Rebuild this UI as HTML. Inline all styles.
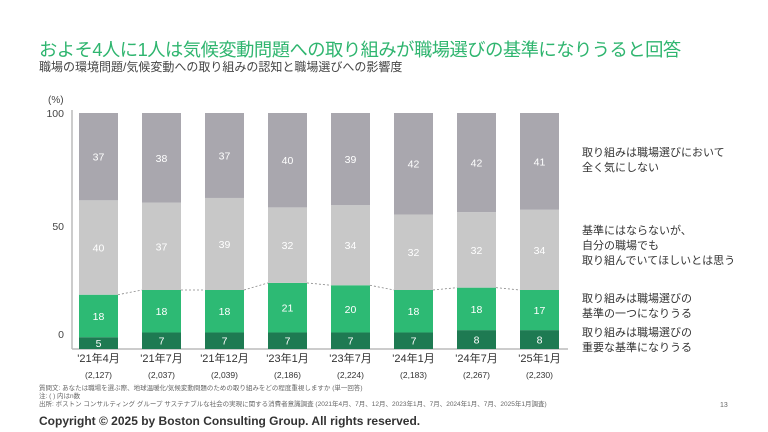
<!DOCTYPE html>
<html><head><meta charset="utf-8"><style>
body{margin:0;width:768px;height:432px;background:#fff;font-family:"Liberation Sans","Noto Sans CJK JP",sans-serif;overflow:hidden;position:relative}
.t{position:absolute;white-space:nowrap}
</style></head><body>
<div class="t" style="left:39px;top:36px;font-size:18.3px;color:#2fb56f;letter-spacing:-0.5px">およそ4人に1人は気候変動問題への取り組みが職場選びの基準になりうると回答</div>
<div class="t" style="left:39px;top:58px;font-size:12px;color:#444">職場の環境問題/気候変動への取り組みの認知と職場選びへの影響度</div>
<svg id="chart" width="768" height="432" style="position:absolute;left:0;top:0"></svg>
<div class="t" style="left:582px;top:146px;font-size:11px;line-height:15px;color:#333">取り組みは職場選びにおいて<br>全く気にしない</div>
<div class="t" style="left:582px;top:224px;font-size:11px;line-height:15px;color:#333">基準にはならないが、<br>自分の職場でも<br>取り組んでいてほしいとは思う</div>
<div class="t" style="left:582px;top:292px;font-size:11px;line-height:15px;color:#333">取り組みは職場選びの<br>基準の一つになりうる</div>
<div class="t" style="left:582px;top:326px;font-size:11px;line-height:15px;color:#333">取り組みは職場選びの<br>重要な基準になりうる</div>
<div class="t" style="left:39px;top:385px;font-size:6.5px;line-height:8px;color:#666">質問文: あなたは職場を選ぶ際、地球温暖化/気候変動問題のための取り組みをどの程度重視しますか (単一回答)<br>注: ( ) 内はn数<br>出所: ボストン コンサルティング グループ サステナブルな社会の実現に関する消費者意識調査 (2021年4月、7月、12月、2023年1月、7月、2024年1月、7月、2025年1月調査)</div>
<div class="t" style="left:720px;top:402px;font-size:7px;color:#666">13</div>
<div class="t" style="left:39px;top:414px;font-size:12px;font-weight:bold;color:#333">Copyright © 2025 by Boston Consulting Group. All rights reserved.</div>
<script>
const categories=["'21年4月","'21年7月","'21年12月","'23年1月","'23年7月","'24年1月","'24年7月","'25年1月"];
const sampleSizes=["(2,127)","(2,037)","(2,039)","(2,186)","(2,224)","(2,183)","(2,267)","(2,230)"];
const important=[5,7,7,7,7,7,8,8];
const oneCriterion=[18,18,18,21,20,18,18,17];
const hope=[40,37,39,32,34,32,32,34];
const notCare=[37,38,37,40,39,42,42,41];
const yTicks=[0,50,100];
const svg=document.getElementById('chart');
const NS='http://www.w3.org/2000/svg';
const y0=349,y100=113,x0=79,step=63,bw=39;
const y=v=>y0-(y0-y100)*v/100;
const x=i=>x0+i*step;
function mk(tag,attrs){const e=document.createElementNS(NS,tag);for(const k in attrs)e.setAttribute(k,attrs[k]);svg.appendChild(e);return e;}
let a=mk('line',{x1:72,y1:110,x2:72,y2:349,stroke:'#bbb','stroke-width':1.5});


a=mk('line',{x1:72,y1:349,x2:568,y2:349,stroke:'#bbb','stroke-width':1.5});


let u=mk('text',{x:48,y:103,'font-size':10,fill:'#444'});u.textContent='(%)';


const tickY={0:338,50:230,100:117};
yTicks.forEach(t=>{const e=mk('text',{x:64,y:tickY[t]!==undefined?tickY[t]:y(t)+4,'font-size':10.5,fill:'#444','text-anchor':'end'});e.textContent=t;

});
const series=[[important,'#1e7a52'],[oneCriterion,'#2dba74'],[hope,'#c8c8c8'],[notCare,'#a9a7ae']];
const names=['important','one-criterion','hope','not-care'];
const greenTops=[];
categories.forEach((c,i)=>{let cum=0;
series.forEach(([arr,col],s)=>{const v=arr[i];const top=s===3?y100:y(cum+v);const bot=y(cum);
const r=mk('rect',{x:x(i),y:top,width:bw,height:bot-top,fill:col});


const tx=mk('text',{x:x(i)+bw/2,y:(top+bot)/2+4,'font-size':10.5,fill:'#fff','text-anchor':'middle'});tx.textContent=v;


cum+=v;if(s===1)greenTops.push(y(cum));});
const l=mk('text',{x:x(i)+bw/2,y:362,'font-size':11,fill:'#333','text-anchor':'middle'});l.textContent=c;


const n=mk('text',{x:x(i)+bw/2,y:378,'font-size':8.5,fill:'#333','text-anchor':'middle'});n.textContent=sampleSizes[i];


});
for(let i=0;i<categories.length-1;i++){const d=mk('line',{x1:x(i)+bw,y1:greenTops[i],x2:x(i+1),y2:greenTops[i+1],stroke:'#888','stroke-width':0.8,'stroke-dasharray':'2,2'});

}
</script>
</body></html>
